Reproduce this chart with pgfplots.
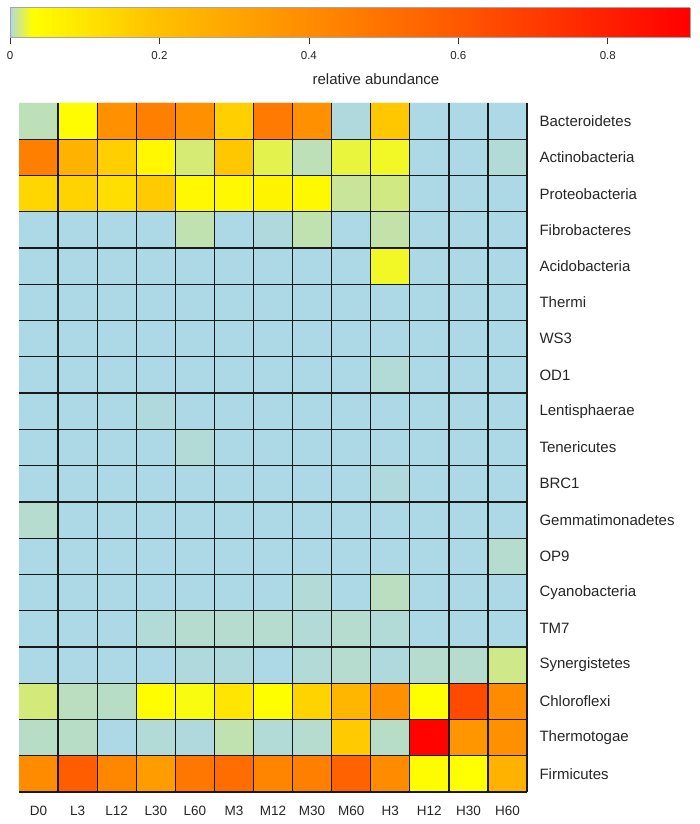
\documentclass[border=0pt]{standalone}
\usepackage{pgfplots}
\pgfplotsset{compat=1.18}
\usepackage{fontspec}
\setmainfont{Liberation Sans}
\begin{document}
\begin{tikzpicture}
\path[use as bounding box] (-19pt,-32pt) rectangle (681pt,792pt);
\begin{axis}[
  at={(0pt,0pt)}, anchor=south west,
  scale only axis, width=508pt, height=689pt,
  xmin=-0.5, xmax=12.5, ymin=-0.5, ymax=18.5, y dir=reverse,
  xtick={0,...,12},
  xticklabels={D0,L3,L12,L30,L60,M3,M12,M30,M60,H3,H12,H30,H60},
  ytick={0,...,18},
  yticklabels={Bacteroidetes,Actinobacteria,Proteobacteria,Fibrobacteres,Acidobacteria,Thermi,WS3,OD1,Lentisphaerae,Tenericutes,BRC1,Gemmatimonadetes,OP9,Cyanobacteria,TM7,Synergistetes,Chloroflexi,Thermotogae,Firmicutes},
  yticklabel pos=right,
  major tick length=0pt, minor tick length=0pt,
  minor xtick={0.5,1.5,...,12.5}, minor ytick={0.5,1.5,...,18.5},
  xminorgrids, yminorgrids,
  minor grid style={black!90, line width=1.3pt},
  axis line style={draw=none},
  axis on top,
  yticklabel style={anchor=west, xshift=9pt, font=\fontsize{15}{17}\selectfont, text=black!85},
  xticklabel style={yshift=-11pt, font=\fontsize{13.5}{15}\selectfont, text=black!85},
  colormap={abund}{rgb255(0pt)=(173,216,230) rgb255(3pt)=(255,255,0) rgb255(20pt)=(255,192,0) rgb255(40pt)=(255,140,0) rgb255(60pt)=(255,88,0) rgb255(91pt)=(255,0,0)},
  point meta min=0, point meta max=0.91,
  colorbar horizontal,
  colorbar sampled,
  colorbar style={
    samples=240,
    at={(parent axis.north west)}, anchor=south west, xshift=-9pt, yshift=74pt,
    scale only axis, width=680pt, height=30pt,
    ymin=0, ymax=1, y dir=normal,
    xtick={0,0.2,0.4,0.6,0.8},
    xtick pos=left,
    xticklabel style={yshift=-4pt, font=\fontsize{11.5}{13}\selectfont, text=black!85, /pgf/number format/assume math mode=true},
    xtick align=outside, major tick length=6pt,
    xtick style={black!80, line width=0.6pt},
    xlabel={relative abundance},
    xlabel style={font=\fontsize{15}{17}\selectfont, text=black!85, xshift=26pt, yshift=-8pt},
    axis line style={gray!70},
    ytick=\empty,
  },
]
\addplot[matrix plot*, mesh/cols=13, point meta=explicit]
table[x=x, y=y, meta=c, row sep=\\] {
x y c \\
0 0 0.006 \\ 1 0 0.04 \\ 2 0 0.38 \\ 3 0 0.45 \\ 4 0 0.38 \\ 5 0 0.16 \\ 6 0 0.47 \\ 7 0 0.38 \\ 8 0 0.001 \\ 9 0 0.18 \\ 10 0 0 \\ 11 0 0 \\ 12 0 0 \\
0 1 0.45 \\ 1 1 0.25 \\ 2 1 0.16 \\ 3 1 0.05 \\ 4 1 0.015 \\ 5 1 0.18 \\ 6 1 0.02 \\ 7 1 0.006 \\ 8 1 0.022 \\ 9 1 0.025 \\ 10 1 0 \\ 11 1 0 \\ 12 1 0.002 \\
0 2 0.14 \\ 1 2 0.15 \\ 2 2 0.12 \\ 3 2 0.17 \\ 4 2 0.05 \\ 5 2 0.05 \\ 6 2 0.06 \\ 7 2 0.045 \\ 8 2 0.01 \\ 9 2 0.013 \\ 10 2 0 \\ 11 2 0 \\ 12 2 0 \\
0 3 0 \\ 1 3 0 \\ 2 3 0 \\ 3 3 0 \\ 4 3 0.007 \\ 5 3 0 \\ 6 3 0.001 \\ 7 3 0.007 \\ 8 3 0 \\ 9 3 0.008 \\ 10 3 0 \\ 11 3 0 \\ 12 3 0 \\
0 4 0 \\ 1 4 0 \\ 2 4 0 \\ 3 4 0 \\ 4 4 0 \\ 5 4 0 \\ 6 4 0 \\ 7 4 0 \\ 8 4 0 \\ 9 4 0.025 \\ 10 4 0 \\ 11 4 0 \\ 12 4 0 \\
0 5 0 \\ 1 5 0 \\ 2 5 0 \\ 3 5 0 \\ 4 5 0 \\ 5 5 0 \\ 6 5 0 \\ 7 5 0 \\ 8 5 0 \\ 9 5 0 \\ 10 5 0 \\ 11 5 0 \\ 12 5 0 \\
0 6 0 \\ 1 6 0 \\ 2 6 0 \\ 3 6 0 \\ 4 6 0 \\ 5 6 0 \\ 6 6 0 \\ 7 6 0 \\ 8 6 0 \\ 9 6 0 \\ 10 6 0 \\ 11 6 0 \\ 12 6 0 \\
0 7 0 \\ 1 7 0 \\ 2 7 0 \\ 3 7 0 \\ 4 7 0 \\ 5 7 0 \\ 6 7 0 \\ 7 7 0 \\ 8 7 0 \\ 9 7 0.002 \\ 10 7 0 \\ 11 7 0 \\ 12 7 0 \\
0 8 0 \\ 1 8 0 \\ 2 8 0 \\ 3 8 0.001 \\ 4 8 0 \\ 5 8 0 \\ 6 8 0 \\ 7 8 0 \\ 8 8 0 \\ 9 8 0 \\ 10 8 0 \\ 11 8 0 \\ 12 8 0 \\
0 9 0 \\ 1 9 0 \\ 2 9 0 \\ 3 9 0 \\ 4 9 0.002 \\ 5 9 0 \\ 6 9 0 \\ 7 9 0 \\ 8 9 0 \\ 9 9 0 \\ 10 9 0 \\ 11 9 0 \\ 12 9 0 \\
0 10 0 \\ 1 10 0 \\ 2 10 0 \\ 3 10 0 \\ 4 10 0 \\ 5 10 0 \\ 6 10 0 \\ 7 10 0 \\ 8 10 0 \\ 9 10 0.001 \\ 10 10 0 \\ 11 10 0 \\ 12 10 0 \\
0 11 0.003 \\ 1 11 0 \\ 2 11 0 \\ 3 11 0 \\ 4 11 0 \\ 5 11 0 \\ 6 11 0 \\ 7 11 0 \\ 8 11 0 \\ 9 11 0 \\ 10 11 0 \\ 11 11 0 \\ 12 11 0 \\
0 12 0 \\ 1 12 0 \\ 2 12 0 \\ 3 12 0 \\ 4 12 0 \\ 5 12 0 \\ 6 12 0 \\ 7 12 0 \\ 8 12 0 \\ 9 12 0 \\ 10 12 0 \\ 11 12 0 \\ 12 12 0.003 \\
0 13 0 \\ 1 13 0 \\ 2 13 0 \\ 3 13 0 \\ 4 13 0 \\ 5 13 0 \\ 6 13 0 \\ 7 13 0.002 \\ 8 13 0 \\ 9 13 0.005 \\ 10 13 0 \\ 11 13 0 \\ 12 13 0 \\
0 14 0 \\ 1 14 0 \\ 2 14 0 \\ 3 14 0.002 \\ 4 14 0.003 \\ 5 14 0.003 \\ 6 14 0.003 \\ 7 14 0.002 \\ 8 14 0.003 \\ 9 14 0.002 \\ 10 14 0 \\ 11 14 0 \\ 12 14 0 \\
0 15 0 \\ 1 15 0 \\ 2 15 0 \\ 3 15 0 \\ 4 15 0.001 \\ 5 15 0.001 \\ 6 15 0 \\ 7 15 0.002 \\ 8 15 0.003 \\ 9 15 0.001 \\ 10 15 0.003 \\ 11 15 0.003 \\ 12 15 0.012 \\
0 16 0.014 \\ 1 16 0.005 \\ 2 16 0.004 \\ 3 16 0.035 \\ 4 16 0.028 \\ 5 16 0.1 \\ 6 16 0.032 \\ 7 16 0.15 \\ 8 16 0.24 \\ 9 16 0.38 \\ 10 16 0.033 \\ 11 16 0.65 \\ 12 16 0.4 \\
0 17 0.004 \\ 1 17 0.004 \\ 2 17 0 \\ 3 17 0.002 \\ 4 17 0.001 \\ 5 17 0.007 \\ 6 17 0.002 \\ 7 17 0.003 \\ 8 17 0.17 \\ 9 17 0.004 \\ 10 17 0.9 \\ 11 17 0.36 \\ 12 17 0.38 \\
0 18 0.4 \\ 1 18 0.58 \\ 2 18 0.42 \\ 3 18 0.34 \\ 4 18 0.48 \\ 5 18 0.52 \\ 6 18 0.43 \\ 7 18 0.45 \\ 8 18 0.56 \\ 9 18 0.4 \\ 10 18 0.04 \\ 11 18 0.03 \\ 12 18 0.25 \\
};
\end{axis}
\end{tikzpicture}
\end{document}
